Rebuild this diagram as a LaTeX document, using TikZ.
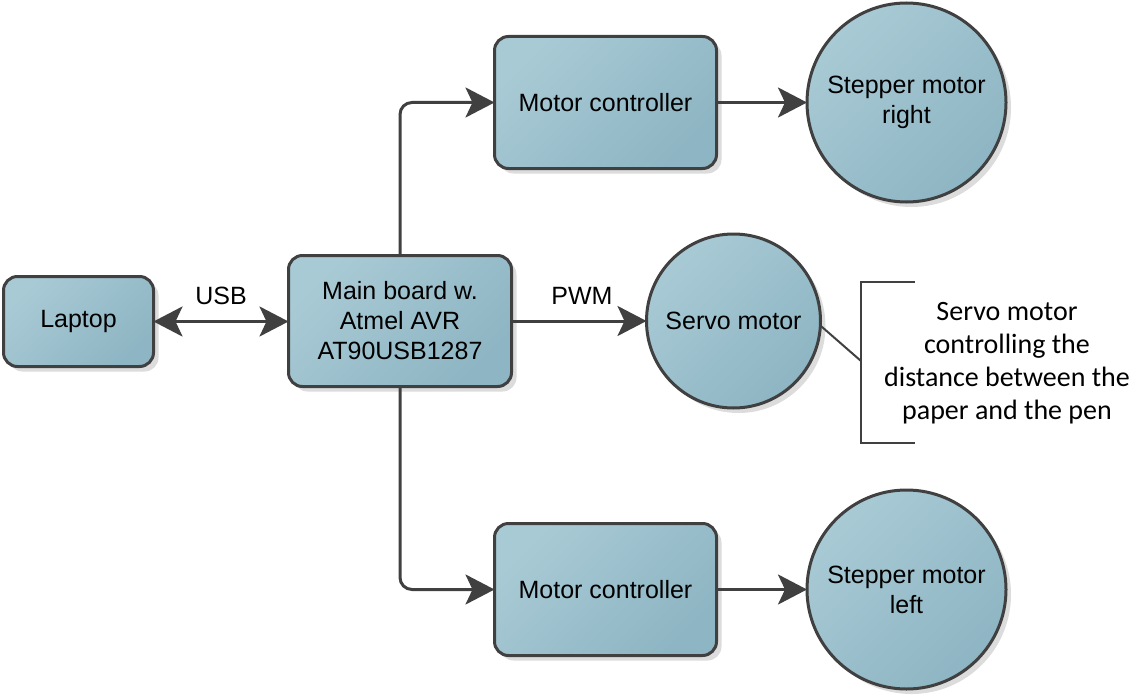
\documentclass[tikz,border=0pt]{standalone}
\usepackage{fontspec}
\setmainfont{Liberation Sans}
\newfontfamily\notefont{Carlito}
\usetikzlibrary{arrows.meta}
\definecolor{lightfill}{HTML}{A8CAD5}
\definecolor{darkfill}{HTML}{8EB5C3}
\definecolor{edgec}{HTML}{404040}
\definecolor{shadowc}{HTML}{DCDCDC}
\tikzset{
  shapebase/.style={draw=edgec, line width=3pt,
    top color=lightfill, bottom color=darkfill, shading angle=45,
    preaction={fill=shadowc, transform canvas={xshift=5pt, yshift=-5pt}},
    font=\fontsize{25}{30}\selectfont, align=center, inner sep=0pt, outer sep=0pt},
  box/.style={shapebase, rectangle, rounded corners=14pt},
  disc/.style={shapebase, circle},
  conn/.style={draw=edgec, line width=3pt, -{Stealth[length=29pt, width=30pt, inset=7pt]}},
  lbl/.style={font=\fontsize{25}{30}\selectfont, inner sep=0pt},
  note/.style={font=\notefont\fontsize{28}{33}\selectfont, align=center, inner sep=0pt},
  bracket/.style={draw=edgec, line width=2pt}
}
\begin{document}
\begin{tikzpicture}[x=1pt, y=-1pt]
\useasboundingbox (0,0) rectangle (1140,698);

\node[box, minimum width=150pt, minimum height=90pt] (laptop) at (78.5,321.5) {Laptop};
\node[box, minimum width=223pt, minimum height=131pt] (main) at (400,321) {Main board w.\\Atmel AVR\\AT90USB1287};
\node[box, minimum width=222pt, minimum height=132pt] (mc1) at (605.5,102.5) {Motor controller};
\node[box, minimum width=222pt, minimum height=132pt] (mc2) at (605.5,589.5) {Motor controller};
\node[disc, minimum size=199pt] (sr) at (906.5,102.5) {Stepper motor\\right};
\node[disc, minimum size=199pt] (sl) at (906.5,589.5) {Stepper motor\\left};
\node[disc, minimum size=174pt] (servo) at (733.5,321) {Servo motor};

\node[note] (txt) at (1007,363) {Servo motor\\controlling the\\distance between the\\paper and the pen};

\coordinate (b1) at (915,282);
\coordinate (b2) at (861,282);
\coordinate (b3) at (861,443);
\coordinate (b4) at (915,443);
\coordinate (bm) at (861,361);

\draw[draw=edgec, line width=3pt, {Stealth[length=29pt, width=30pt, inset=7pt]}-{Stealth[length=29pt, width=30pt, inset=7pt]}]
  (laptop.east) -- (laptop.east -| main.west) node[lbl, midway, above=15pt] (usb) {USB};
\draw[conn] (main.east) -- (servo.west) node[lbl, midway, above=15pt, xshift=3pt] (pwm) {PWM};
\draw[conn, rounded corners=12pt] (main.north) |- (mc1.west);
\draw[conn, rounded corners=12pt] (main.south) |- (mc2.west);
\draw[conn] (mc1.east) -- (sr.west);
\draw[conn] (mc2.east) -- (sl.west);

\draw[bracket] (b1) -- (b2) -- (b3) -- (b4);
\draw[bracket] (servo.-3) -- (bm);
\end{tikzpicture}
\end{document}
